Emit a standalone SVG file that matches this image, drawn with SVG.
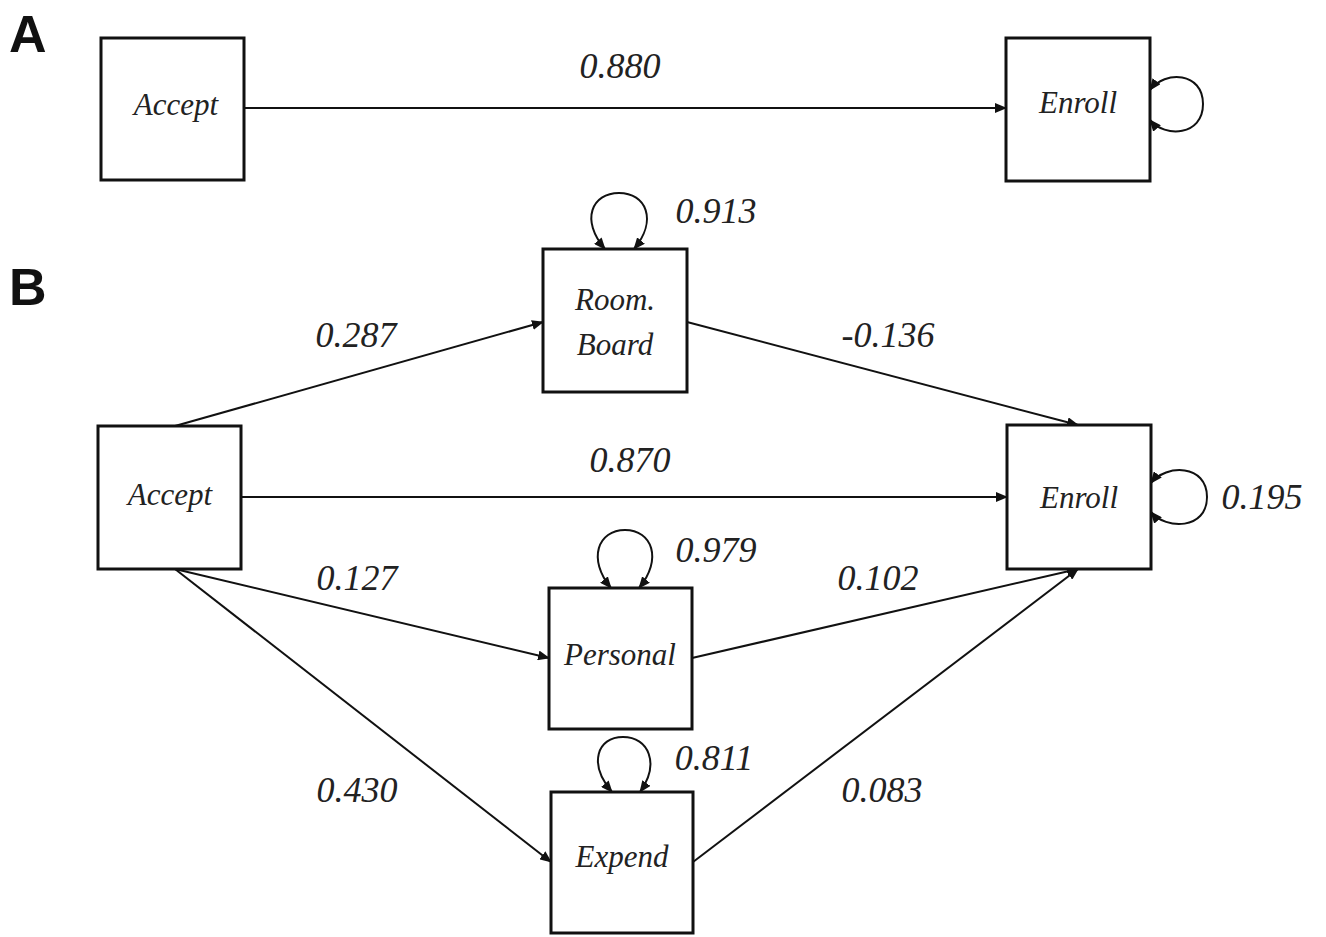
<svg xmlns="http://www.w3.org/2000/svg" width="1326" height="937" viewBox="0 0 1326 937">
<defs>
<marker id="ah" viewBox="0 0 12 10" refX="11" refY="5" markerWidth="12" markerHeight="10" markerUnits="userSpaceOnUse" orient="auto-start-reverse">
<path d="M0,0 L12,5 L0,10 Z" fill="#111"/>
</marker>
</defs>
<style>
.box{fill:#fff;stroke:#111;stroke-width:3}
.nt{font-family:"Liberation Serif",serif;font-style:italic;font-size:31px;fill:#222;text-anchor:middle}
.lb{font-family:"Liberation Serif",serif;font-style:italic;font-size:36px;fill:#222;text-anchor:middle}
.pl{font-family:"Liberation Sans",Arial,sans-serif;font-weight:bold;font-size:52px;fill:#111}
.e{fill:none;stroke:#111;stroke-width:2;marker-end:url(#ah)}
.lp{fill:none;stroke:#111;stroke-width:2;marker-start:url(#ah);marker-end:url(#ah)}
</style>
<rect width="1326" height="937" fill="#fff"/>
<text class="pl" x="9" y="52">A</text>
<text class="pl" x="9" y="305">B</text>

<g id="connectors">
<path class="e" d="M244,108 L1006,108"/>
<path class="lp" d="M1150,90 C1165,70 1203,72 1203,104 C1203,136 1165,138 1150,120"/>

<path class="e" d="M175,426 L543,322"/>
<path class="e" d="M687,322 L1078,425"/>
<path class="e" d="M241,497 L1007,497"/>
<path class="e" d="M175,569 L549,658"/>
<path class="e" d="M692,658 L1078,569"/>
<path class="e" d="M175,569 L551,862"/>
<path class="e" d="M693,862 L1078,569"/>

<path class="lp" d="M605,249 C580,220 592,193 619,193 C646,193 658,220 634,249"/>
<path class="lp" d="M611,588 C587,559 598,530 625,530 C652,530 663,559 639,588"/>
<path class="lp" d="M612,792 C588,764 597,737 623,737 C649,737 660,764 640,792"/>
<path class="lp" d="M1151,483 C1166,464 1207,464 1207,497 C1207,530 1166,530 1151,512"/>
</g>

<g id="labels">
<text class="lb" x="620" y="78">0.880</text>
<text class="lb" x="716" y="223">0.913</text>
<text class="lb" x="356" y="347">0.287</text>
<text class="lb" x="888" y="347">-0.136</text>
<text class="lb" x="630" y="472">0.870</text>
<text class="lb" x="1262" y="509">0.195</text>
<text class="lb" x="716" y="562">0.979</text>
<text class="lb" x="357" y="590">0.127</text>
<text class="lb" x="878" y="590">0.102</text>
<text class="lb" x="714" y="770">0.811</text>
<text class="lb" x="357" y="802">0.430</text>
<text class="lb" x="882" y="802">0.083</text>
</g>

<g id="nodeA_accept">
<rect class="box" x="101" y="38" width="143" height="142"/>
<text class="nt" x="176" y="115">Accept</text>
</g>
<g id="nodeA_enroll">
<rect class="box" x="1006" y="38" width="144" height="143"/>
<text class="nt" x="1078" y="113">Enroll</text>
</g>
<g id="nodeB_roomboard">
<rect class="box" x="543" y="249" width="144" height="143"/>
<text class="nt" x="615" y="310">Room.</text>
<text class="nt" x="615" y="355">Board</text>
</g>
<g id="nodeB_accept">
<rect class="box" x="98" y="426" width="143" height="143"/>
<text class="nt" x="170" y="505">Accept</text>
</g>
<g id="nodeB_enroll">
<rect class="box" x="1007" y="425" width="144" height="144"/>
<text class="nt" x="1079" y="508">Enroll</text>
</g>
<g id="nodeB_personal">
<rect class="box" x="549" y="588" width="143" height="141"/>
<text class="nt" x="620" y="665">Personal</text>
</g>
<g id="nodeB_expend">
<rect class="box" x="551" y="792" width="142" height="141"/>
<text class="nt" x="622" y="867">Expend</text>
</g>
</svg>
